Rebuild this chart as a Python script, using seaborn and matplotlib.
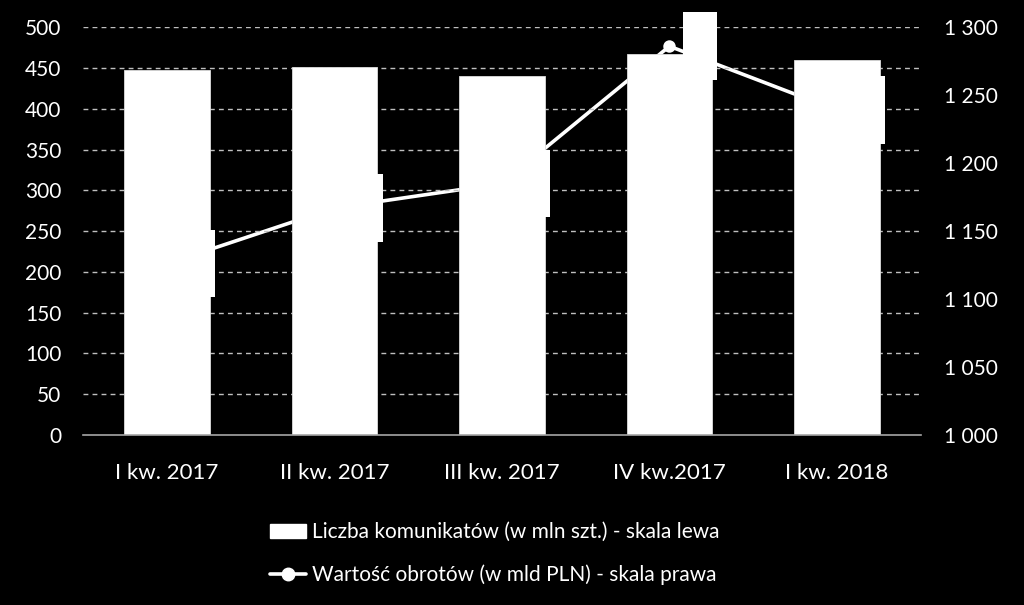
import matplotlib
matplotlib.use("Agg")
import matplotlib.pyplot as plt
import seaborn as sns
import numpy as np
import pandas as pd
from matplotlib.lines import Line2D
from matplotlib.patches import Patch

categories = ["I kw. 2017", "II kw. 2017", "III kw. 2017", "IV kw.2017", "I kw. 2018"]
messages = [447, 451, 440, 467, 460]          # mln szt. (left axis)
turnover = [1126, 1167, 1185, 1286, 1239]      # mld PLN (right axis)
left_ticks = list(range(0, 501, 50))
right_ticks = list(range(1000, 1301, 50))
bar_label = "Liczba komunikatów (w mln szt.) - skala lewa"
line_label = "Wartość obrotów (w mld PLN) - skala prawa"

sns.set_theme(style="dark")
plt.rcParams["font.family"] = ["Lato", "DejaVu Sans"]

df = pd.DataFrame({"kw": categories, "n": messages, "v": turnover})

fig = plt.figure(figsize=(10.24, 6.05), dpi=100, facecolor="black")
ax = fig.add_axes([0.0815, 0.281, 0.8175, 0.674])
ax2 = ax.twinx()

sns.barplot(data=df, x="kw", y="n", order=categories, color="white",
            saturation=1, width=0.51, ax=ax, edgecolor="#dddddd", linewidth=0.6)
sns.pointplot(data=df, x="kw", y="v", order=categories, color="white",
              markers="o", errorbar=None, ax=ax2, markersize=7, linewidth=2.6)

# bars above the line
ax.set_zorder(ax2.get_zorder() + 1)
ax.patch.set_visible(False)
ax2.patch.set_facecolor("black")

ax.set_xlim(-0.5, 4.5)
ax.set_ylim(0, 500)
ax2.set_ylim(1000, 1300)

# data label boxes (white text on white box, as in the reference), drawn above bars
for i, v in enumerate(turnover):
    ax.annotate(f"{v:,}".replace(",", " "), (i, v), xycoords=ax2.transData,
                xytext=(16, 0), textcoords="offset points", rotation=90,
                ha="left", va="center", color="white", fontsize=14,
                annotation_clip=False, zorder=5,
                bbox=dict(fc="white", ec="none", boxstyle="square,pad=0.45"))

ax.set_yticks(left_ticks)
ax.set_yticklabels([str(t) for t in left_ticks])
ax2.set_yticks(right_ticks)
ax2.set_yticklabels([f"{t:,}".replace(",", " ") for t in right_ticks])

ax.set_xlabel("")
ax.set_ylabel("")
ax2.set_ylabel("")
ax2.grid(False)
ax.grid(False)
for t in left_ticks[1:]:
    ax.axhline(t, color="#bfbfbf", lw=1.0, ls=(0, (3.5, 3)), zorder=0)

for a in (ax, ax2):
    for s in a.spines.values():
        s.set_visible(False)
ax.spines["bottom"].set_visible(True)
ax.spines["bottom"].set_color("#a6a6a6")
ax.spines["bottom"].set_linewidth(1.2)

ax.tick_params(axis="y", colors="white", labelsize=15, length=0, pad=16)
ax2.tick_params(axis="y", colors="white", labelsize=15, length=0, pad=17)
ax.tick_params(axis="x", colors="white", labelsize=16, length=0, pad=20)
ax2.tick_params(axis="x", length=0)

handles = [Patch(facecolor="white", edgecolor="white"),
           Line2D([0], [0], color="white", lw=2.6, marker="o", markersize=9,
                  markerfacecolor="white")]
leg = fig.legend(handles, [bar_label, line_label], loc="center",
                 bbox_to_anchor=(0.483, 0.085), frameon=False, fontsize=15,
                 handlelength=1.75, handletextpad=0.25, labelspacing=1.05)
for t in leg.get_texts():
    t.set_color("white")

fig.savefig("out.png", dpi=100, facecolor="black")
